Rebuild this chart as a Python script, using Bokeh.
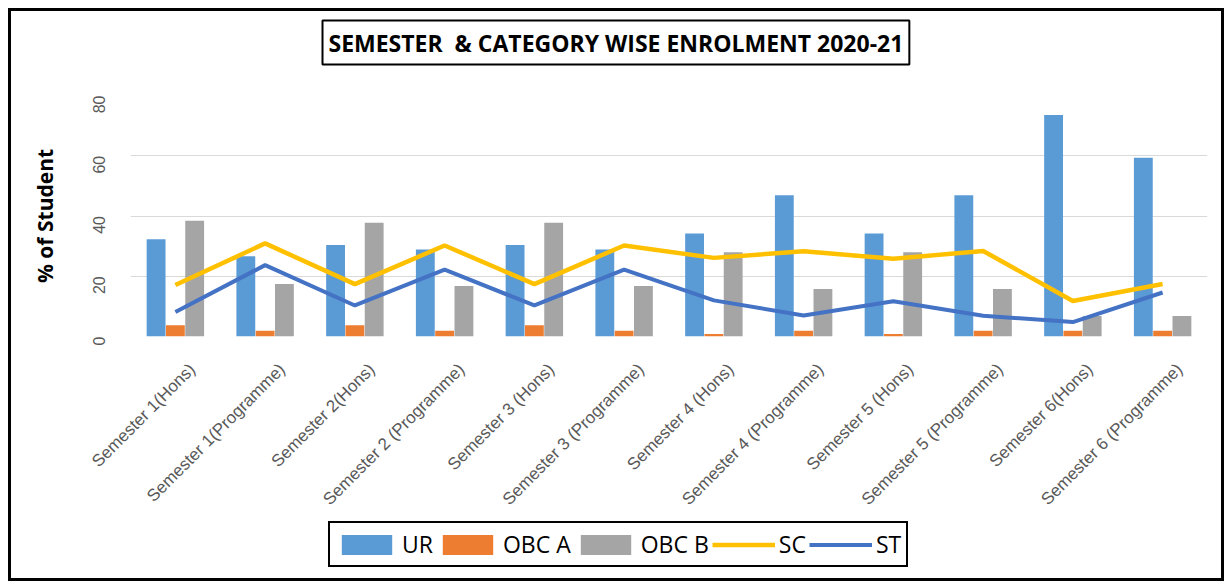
import math
from bokeh.plotting import figure
from bokeh.layouts import column
from bokeh.models import (Range1d, LinearAxis, FixedTicker, Legend,
                          LegendItem, ColumnDataSource, Label)
from bokeh.transform import dodge
from bokeh.embed import file_html
from bokeh.resources import INLINE

semesters = ["Semester 1(Hons)", "Semester 1(Programme)", "Semester 2(Hons)",
             "Semester 2 (Programme)", "Semester 3 (Hons)", "Semester 3 (Programme)",
             "Semester 4 (Hons)", "Semester 4 (Programme)", "Semester 5 (Hons)",
             "Semester 5 (Programme)", "Semester 6(Hons)", "Semester 6 (Programme)"]
ur = [32.3, 26.6, 30.4, 28.9, 30.4, 28.9, 34.2, 46.9, 34.2, 46.9, 73.5, 59.3]
obc_a = [3.7, 1.9, 3.7, 1.9, 3.7, 1.9, 0.8, 1.9, 0.8, 1.9, 1.9, 1.9]
obc_b = [38.4, 17.4, 37.8, 16.8, 37.8, 16.8, 28.0, 15.8, 28.0, 15.8, 6.8, 6.8]
sc = [17.1, 30.9, 17.4, 30.2, 17.4, 30.2, 26.1, 28.3, 25.8, 28.4, 11.8, 17.4]
st = [8.1, 23.7, 10.3, 22.2, 10.3, 22.2, 12.0, 7.0, 11.7, 6.9, 4.8, 14.6]
y_ticks = [0, 20, 40, 60, 80]
title_text = "SEMESTER\u00a0 & CATEGORY WISE ENROLMENT 2020-21"
y_label = "% of Student"
series = ["UR", "OBC A", "OBC B", "SC", "ST"]

n = len(semesters)
pos = [i + 0.5 for i in range(n)]  # category centres on a numeric axis
src = ColumnDataSource(dict(pos=pos, sem=semesters, ur=ur, obc_a=obc_a, obc_b=obc_b, sc=sc, st=st))

BLK = "3px solid black"
W = 1216


def draw_series(fig):
    r1 = fig.vbar(x=dodge("pos", -0.215), top="ur", width=0.21, source=src,
                  fill_color="#5B9BD5", line_color=None)
    r2 = fig.vbar(x=dodge("pos", 0.0), top="obc_a", width=0.21, source=src,
                  fill_color="#ED7D31", line_color=None)
    r3 = fig.vbar(x=dodge("pos", 0.215), top="obc_b", width=0.21, source=src,
                  fill_color="#A5A5A5", line_color=None)
    r4 = fig.line(x="pos", y="sc", source=src, line_color="#FFC000", line_width=4.5)
    r5 = fig.line(x="pos", y="st", source=src, line_color="#4472C4", line_width=4)
    return [r1, r2, r3, r4, r5]


def bare(fig):
    fig.background_fill_color = "white"
    fig.border_fill_color = "white"
    fig.outline_line_color = None
    fig.grid.visible = False


# ---------- title strip ----------
tf = figure(width=W, height=62, x_range=Range1d(0, 1), y_range=Range1d(0, 1),
            output_backend="svg", toolbar_location=None, title=None,
            x_axis_location=None, y_axis_location=None,
            min_border_left=0, min_border_right=0, min_border_top=0, min_border_bottom=0)
tf.styles = {"border-top": BLK, "border-left": BLK, "border-right": BLK}
bare(tf)
tf.add_layout(Label(x=192, y=31, x_units="screen", y_units="screen", text=title_text,
                    text_align="left", text_baseline="middle",
                    text_font="Open Sans", text_font_style="bold", text_font_size="23px",
                    text_color="black", border_line_color="black", border_line_width=2,
                    border_line_alpha=1, background_fill_color="white", padding=6))

# ---------- main chart ----------
p = figure(x_range=Range1d(0, n), y_range=Range1d(0, 80),
           width=W, height=448, output_backend="svg", toolbar_location=None,
           x_axis_location=None, title=None,
           min_border_left=119, min_border_right=20, min_border_top=25, min_border_bottom=178)
p.styles = {"border-left": BLK, "border-right": BLK}
p.background_fill_color = "white"
p.border_fill_color = "white"
p.outline_line_color = None
draw_series(p)

p.yaxis.ticker = FixedTicker(ticks=y_ticks)
p.yaxis.major_label_orientation = math.pi / 2
p.yaxis.major_tick_line_color = None
p.yaxis.minor_tick_line_color = None
p.yaxis.axis_line_color = None
p.yaxis.major_label_text_color = "#595959"
p.yaxis.major_label_text_font = "Liberation Sans"
p.yaxis.major_label_text_font_size = "16px"
p.yaxis.major_label_standoff = 26
p.yaxis.axis_label = y_label
p.yaxis.axis_label_text_font = "Open Sans"
p.yaxis.axis_label_text_font_style = "bold"
p.yaxis.axis_label_text_font_size = "21px"
p.yaxis.axis_label_text_color = "black"
p.yaxis.axis_label_standoff = 25
p.ygrid.grid_line_color = "#d9d9d9"
p.ygrid.grid_line_width = 1
p.xgrid.visible = False

# x axis (labels shifted slightly right like the original)
p.extra_x_ranges = {"lbl": Range1d(-0.19, n - 0.19)}
overrides = {}
for t, s in zip(pos, semesters):
    overrides[t] = s
    overrides[str(t)] = s
xaxis = LinearAxis(x_range_name="lbl", ticker=FixedTicker(ticks=pos),
                   major_label_overrides=overrides)
xaxis.major_label_orientation = math.pi / 4
xaxis.axis_line_color = None
xaxis.major_tick_line_color = None
xaxis.minor_tick_line_color = None
xaxis.major_label_text_color = "#595959"
xaxis.major_label_text_font = "Liberation Sans"
xaxis.major_label_text_font_size = "17px"
xaxis.major_label_standoff = 24
p.add_layout(xaxis, "below")

# ---------- legend strip ----------
lf = figure(width=W, height=63, x_range=Range1d(0, n), y_range=Range1d(1000, 1001),
            output_backend="svg", toolbar_location=None, title=None,
            x_axis_location=None, y_axis_location=None,
            min_border_left=0, min_border_right=0, min_border_top=0, min_border_bottom=0)
lf.styles = {"border-left": BLK, "border-right": BLK, "border-bottom": BLK}
bare(lf)
lr = draw_series(lf)  # same series; out of this strip's range, used for the legend keys
legend = Legend(items=[LegendItem(label=s, renderers=[r]) for s, r in zip(series, lr)],
                orientation="horizontal", location=(198, 14),
                border_line_color="black", border_line_width=2, border_line_alpha=1,
                background_fill_color="white", background_fill_alpha=1,
                label_text_font="Open Sans", label_text_font_size="23px",
                label_text_color="black", glyph_width=63, glyph_height=25,
                label_standoff=4, spacing=3, padding=5, margin=0)
lf.add_layout(legend, "center")

layout = column(tf, p, lf, spacing=0)
layout.styles = {"margin-left": "8px", "margin-top": "8px"}

open("out.html", "w").write(file_html(layout, INLINE))
